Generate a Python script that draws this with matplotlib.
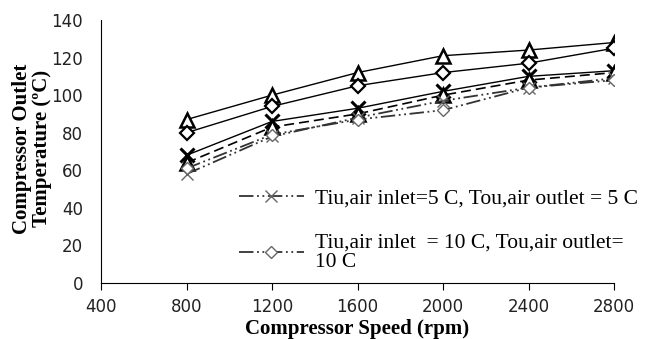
import matplotlib
matplotlib.use("Agg")
import matplotlib.pyplot as plt

# compressor speed (rpm)
speed = [800, 1200, 1600, 2000, 2400, 2800]

# outlet temperature curves
tri_top = [87, 100, 112, 121, 124, 128]
dia_top = [80, 94, 105, 112, 117, 125]
x_solid = [68, 86, 93, 102, 110, 113]
tri_low = [64, 83, 90, 100, 108, 112]
x_dash = [58, 78, 88, 97, 104, 109]
dia_dash = [61, 79, 87, 92, 104, 108]

legend_labels = ["Tiu,air inlet=5 C, Tou,air outlet = 5 C",
                 "Tiu,air inlet  = 10 C, Tou,air outlet=\n10 C"]

x_ticks = [400, 800, 1200, 1600, 2000, 2400, 2800]
y_ticks = [0, 20, 40, 60, 80, 100, 120, 140]

serif = ["Liberation Serif", "DejaVu Serif"]

fig = plt.figure(figsize=(6.55, 3.39), dpi=100)
ax = fig.add_axes([101 / 655, 1 - 283 / 339, 513 / 655, 263 / 339])

mk = dict(markerfacecolor="white", markersize=9.5, markeredgewidth=1.8)
ax.plot(speed, tri_top, "-", color="black", lw=1, marker="^", markeredgecolor="black", **mk)
ax.plot(speed, dia_top, "-", color="black", lw=1, marker="D", markeredgecolor="black",
        markerfacecolor="white", markersize=7, markeredgewidth=1.6)
ax.plot(speed, x_solid, "-", color="black", lw=1, marker="x", markeredgecolor="black",
        markersize=10, markeredgewidth=2.2)
ax.plot(speed, tri_low, linestyle=(0, (6, 3)), color="black", lw=1.2, marker="^",
        markeredgecolor="black", **mk)

dashdotdot = (0, (8, 2, 1, 2, 1, 2))
l1, = ax.plot(speed, x_dash, linestyle=dashdotdot, color="#333333", lw=1.3, marker="x",
              markeredgecolor="#666666", markersize=8, markeredgewidth=1)
l2, = ax.plot(speed, dia_dash, linestyle=dashdotdot, color="#333333", lw=1.3, marker="D",
              markeredgecolor="#666666", markerfacecolor="white", markersize=6, markeredgewidth=1)

ax.set_xlim(400, 2800)
ax.set_ylim(0, 140)
ax.set_xticks(x_ticks)
ax.set_yticks(y_ticks)
ax.spines["top"].set_visible(False)
ax.spines["right"].set_visible(False)
ax.tick_params(axis="y", length=0, pad=13, labelsize=12, labelcolor="#222222")
ax.tick_params(axis="x", direction="out", length=5, pad=6, labelsize=12, labelcolor="#222222")

ax.set_xlabel("Compressor Speed (rpm)", family=serif, fontweight="bold", fontsize=15)
ax.xaxis.set_label_coords(0.5, -0.138)
ax.set_ylabel("Compressor Outlet\nTemperature (ºC)", family=serif, fontweight="bold",
              fontsize=15, linespacing=1.0)
ax.yaxis.set_label_coords(-0.095, 0.51)

leg = ax.legend([l1, l2], legend_labels, loc="upper left",
                bbox_to_anchor=(239 / 655, 1 - 188 / 339), bbox_transform=fig.transFigure,
                frameon=False, prop={"family": serif, "size": 15.5}, handlelength=3.0,
                labelspacing=1.2, handletextpad=0.55, borderpad=0, borderaxespad=0)
for t in leg.get_texts():
    t.set_linespacing(1.0)

fig.savefig("out.png", dpi=100)
